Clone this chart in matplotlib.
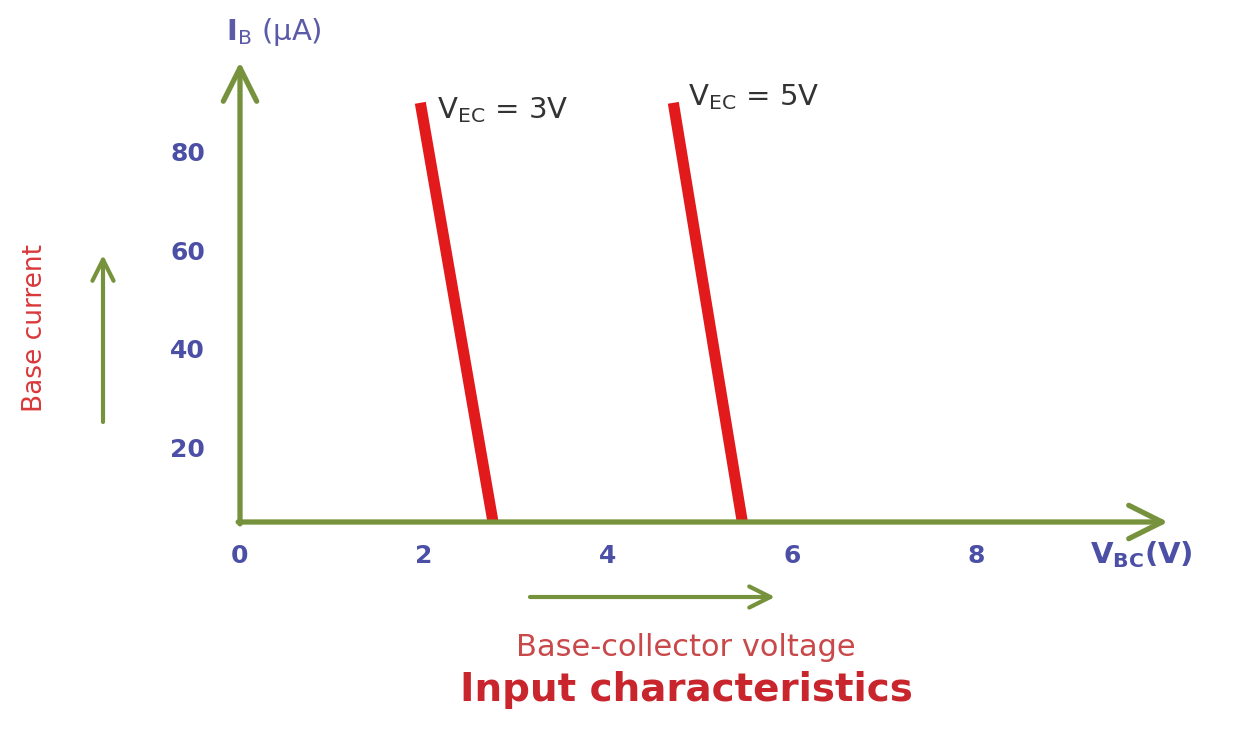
import matplotlib.pyplot as plt

# input characteristics (common-base style plot)
ib_vals = [90, 4.75]                 # base current, uA (top and bottom of each line)
vbc_vec3 = [1.96, 2.75]             # V_BC for V_EC = 3V
vbc_vec5 = [4.71, 5.46]             # V_BC for V_EC = 5V
x_ticks = [0, 2, 4, 6, 8]
y_ticks = [20, 40, 60, 80]

green = '#76923c'
red = '#e31a1c'
blue = '#4b4fa5'

W, H = 1243, 733
fig = plt.figure(figsize=(W / 100, H / 100), dpi=100)

def fx(px):
    return px / W

def fy(py):
    return 1 - py / H

# axes box: origin at pixel (240, 522), arrow tips at x=1168 and y=62
ax = fig.add_axes([fx(240), fy(522), fx(1168) - fx(240), fy(62) - fy(522)])
ax.set_xlim(0, 10.087)
ax.set_ylim(4.75, 98.3)
for s in ax.spines.values():
    s.set_visible(False)

ax.plot(vbc_vec3, ib_vals, color=red, lw=8, solid_capstyle='butt', clip_on=False)
ax.plot(vbc_vec5, ib_vals, color=red, lw=8, solid_capstyle='butt', clip_on=False)

ax.set_xticks(x_ticks)
ax.set_yticks(y_ticks)
ax.tick_params(axis='x', length=0, pad=16, labelsize=18, labelcolor=blue)
ax.tick_params(axis='y', length=0, pad=25, labelsize=18, labelcolor=blue)
for lab in ax.get_xticklabels() + ax.get_yticklabels():
    lab.set_fontweight('bold')

# axis arrows
arrow = dict(arrowstyle='->', lw=3.8, color=green, mutation_scale=60,
             shrinkA=0, shrinkB=0)
ax.annotate('', xy=(1, 0), xytext=(-0.002, 0), xycoords='axes fraction',
            arrowprops=arrow, annotation_clip=False)
ax.annotate('', xy=(0, 1), xytext=(0, -0.004), xycoords='axes fraction',
            arrowprops=arrow, annotation_clip=False)

# curve labels
ax.text(vbc_vec3[0] + 0.18, 88.5, r'V$_{\mathregular{EC}}$ = 3V', fontsize=21,
        color='#333333', va='center', ha='left')
ax.text(vbc_vec5[0] + 0.16, 91.2, r'V$_{\mathregular{EC}}$ = 5V', fontsize=21,
        color='#333333', va='center', ha='left')

# axis names
fig.text(fx(226), fy(32), r'$\mathbf{I}_{\mathregular{B}}$ (μA)', fontsize=21,
         color='#5a5aa8', va='center', ha='left')
fig.text(fx(1090), fy(555), r'V$_{\mathregular{BC}}$(V)', fontsize=21,
         color=blue, fontweight='bold', va='center', ha='left')

# side / bottom annotations
side_arrow = dict(arrowstyle='->', lw=3, color=green, mutation_scale=38,
                  shrinkA=0, shrinkB=0)
ax.annotate('', xy=(fx(103), fy(255)), xytext=(fx(103), fy(422)),
            xycoords='figure fraction', arrowprops=side_arrow, annotation_clip=False)
ax.annotate('', xy=(fx(775), fy(597)), xytext=(fx(530), fy(597)),
            xycoords='figure fraction', arrowprops=side_arrow, annotation_clip=False)

fig.text(fx(35), fy(328), 'Base current', rotation=90, fontsize=19,
         family=['Liberation Sans Narrow', 'DejaVu Sans'], color='#d9383a',
         va='center', ha='center')
fig.text(fx(686), fy(647), 'Base-collector voltage', fontsize=22,
         color='#c9484a', va='center', ha='center')
fig.text(fx(686), fy(690), 'Input characteristics', fontsize=28,
         fontweight='bold', color='#c8252d', va='center', ha='center')

fig.savefig('out.png', dpi=100)
